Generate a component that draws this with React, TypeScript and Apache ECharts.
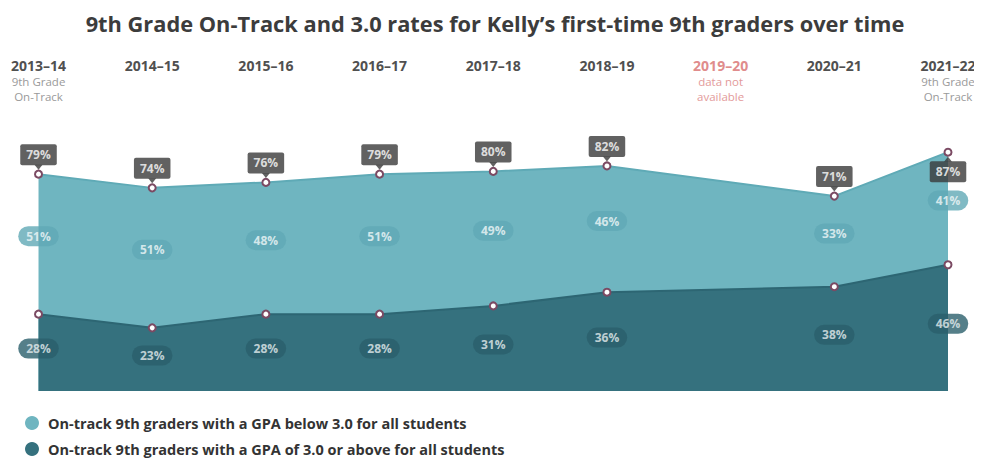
import React, { useEffect, useRef } from "react";
import * as echarts from "echarts";

const categories = ["2013–14", "2014–15", "2015–16", "2016–17", "2017–18", "2018–19", "2019–20", "2020–21", "2021–22"];
const subLabels: string[][] = [["9th Grade", "On-Track"], [], [], [], [], [], ["data not", "available"], [], ["9th Grade", "On-Track"]];
const naIndex = 6;
const above3: (number | null)[] = [28, 23, 28, 28, 31, 36, null, 38, 46];
const below3: (number | null)[] = [51, 51, 48, 51, 49, 46, null, 33, 41];
const belowBelowIdx = 8; // index whose total label sits below the point

const nameBelow = "On-track 9th graders with a GPA below 3.0 for all students";
const nameAbove = "On-track 9th graders with a GPA of 3.0 or above for all students";

const FONT = "'Open Sans', Lato, sans-serif";
const LIGHT = "#6fb5c0";
const DARK = "#35717e";

export default function App() {
  const ref = useRef<HTMLDivElement>(null);
  useEffect(() => {
    if (!ref.current) return;
    const chart = echarts.init(ref.current, undefined, { renderer: "svg" });
    const totals = above3.map((v, i) => (v == null || below3[i] == null ? null : v + (below3[i] as number)));
    const darkMid = above3.map((v) => (v == null ? null : v / 2));
    const lightMid = above3.map((v, i) => (v == null || below3[i] == null ? null : v + (below3[i] as number) / 2));

    const marker = { color: "#ffffff", borderColor: "#7b4a63", borderWidth: 2 };

    chart.setOption({
      animation: false,
      textStyle: { fontFamily: FONT },
      title: {
        text: "9th Grade On-Track and 3.0 rates for Kelly’s first-time 9th graders over time",
        left: "center",
        top: -1,
        textStyle: { fontFamily: FONT, fontSize: 21.8, fontWeight: "bold", color: "#3c3c3c" },
      },
      legend: {
        orient: "vertical",
        left: 17,
        top: 406,
        height: 47,
        padding: 0,
        itemGap: 8,
        icon: "circle",
        itemWidth: 14,
        itemHeight: 14,
        selectedMode: false,
        textStyle: {
          fontFamily: FONT,
          fontSize: 14.5,
          fontWeight: "bold",
          color: "#333333",
          lineHeight: 18,
          padding: [0, 0, 0, 4],
        },
        data: [
          { name: nameBelow, itemStyle: { color: LIGHT, borderWidth: 0 } },
          { name: nameAbove, itemStyle: { color: DARK, borderWidth: 0 } },
        ],
      },
      grid: { left: 30, right: 34, top: 108.5, bottom: 70 },
      xAxis: {
        type: "category",
        data: categories,
        boundaryGap: false,
        position: "top",
        axisLine: { show: false },
        axisTick: { show: false },
        splitLine: { show: false },
        axisLabel: {
          interval: 0,
          margin: 12,
          formatter: (value: string, index: number) => {
            const na = index === naIndex;
            const subs = subLabels[index];
            const head = na ? `{na|${value}}` : `{y|${value}}`;
            const l1 = subs[0] ? (na ? `{nas|${subs[0]}}` : `{s|${subs[0]}}`) : "{s| }";
            const l2 = subs[1] ? (na ? `{nas|${subs[1]}}` : `{s|${subs[1]}}`) : "{s| }";
            return `${head}\n${l1}\n${l2}`;
          },
          rich: {
            y: { fontFamily: FONT, fontSize: 14, fontWeight: "bold", color: "#505050", lineHeight: 17 },
            na: { fontFamily: FONT, fontSize: 14, fontWeight: "bold", color: "#e08c8c", lineHeight: 17 },
            s: { fontFamily: FONT, fontSize: 11.5, color: "#9a9a9a", lineHeight: 15.5 },
            nas: { fontFamily: FONT, fontSize: 11.5, color: "#e39a9a", lineHeight: 15.5 },
          },
        },
      },
      yAxis: { type: "value", min: 0, max: 100, show: false, splitLine: { show: false } },
      series: [
        {
          name: nameBelow,
          type: "line",
          data: totals,
          connectNulls: true,
          symbol: "circle",
          symbolSize: 7,
          itemStyle: marker,
          lineStyle: { color: "#5faab6", width: 2 },
          areaStyle: { color: LIGHT, opacity: 1 },
          z: 2,
        },
        {
          name: nameAbove,
          type: "line",
          data: above3,
          connectNulls: true,
          symbol: "circle",
          symbolSize: 7,
          itemStyle: marker,
          lineStyle: { color: "#2d6673", width: 2 },
          areaStyle: { color: DARK, opacity: 1 },
          z: 3,
        },
        {
          name: "darkLabels",
          type: "scatter",
          data: darkMid.map((v, i) => (v == null ? null : { value: v, label: { formatter: `${above3[i]}%` } })),
          symbolSize: 0,
          silent: true,
          z: 5,
          label: {
            show: true,
            position: "inside",
            offset: [0, -4],
            fontFamily: FONT,
            fontSize: 12,
            fontWeight: "bold",
            color: "#e6eef0",
            backgroundColor: "#2a5f6b",
            padding: [3, 8],
            lineHeight: 14,
            borderRadius: 10,
          },
        },
        {
          name: "lightLabels",
          type: "scatter",
          data: lightMid.map((v, i) => (v == null ? null : { value: v, label: { formatter: `${below3[i]}%` } })),
          symbolSize: 0,
          silent: true,
          z: 5,
          label: {
            show: true,
            position: "inside",
            offset: [0, -8],
            fontFamily: FONT,
            fontSize: 12,
            fontWeight: "bold",
            color: "#f2f8f9",
            backgroundColor: "#60a9b5",
            padding: [3, 8],
            lineHeight: 14,
            borderRadius: 10,
          },
        },
        {
          name: "totalArrows",
          type: "scatter",
          data: totals.map((v, i) =>
            v == null
              ? null
              : {
                  value: v,
                  symbolRotate: i === belowBelowIdx ? 0 : 180,
                  symbolOffset: [0, i === belowBelowIdx ? 7 : -7],
                }
          ),
          symbol: "triangle",
          symbolSize: [8, 5],
          itemStyle: { color: "#3a3a3a" },
          silent: true,
          z: 6,
        },
        {
          name: "totalLabels",
          type: "scatter",
          data: totals.map((v, i) =>
            v == null
              ? null
              : {
                  value: v,
                  label: { formatter: `${v}%`, position: i === belowBelowIdx ? "bottom" : "top" },
                }
          ),
          symbolSize: 0,
          silent: true,
          z: 6,
          label: {
            show: true,
            distance: 9,
            fontFamily: FONT,
            fontSize: 12,
            fontWeight: "bold",
            color: "#ffffff",
            backgroundColor: "#3a3a3a",
            padding: [4, 6],
            lineHeight: 13,
            borderRadius: 2,
          },
        },
      ],
    });
    return () => chart.dispose();
  }, []);
  return <div ref={ref} style={{ width: 974, height: 453 }} />;
}
